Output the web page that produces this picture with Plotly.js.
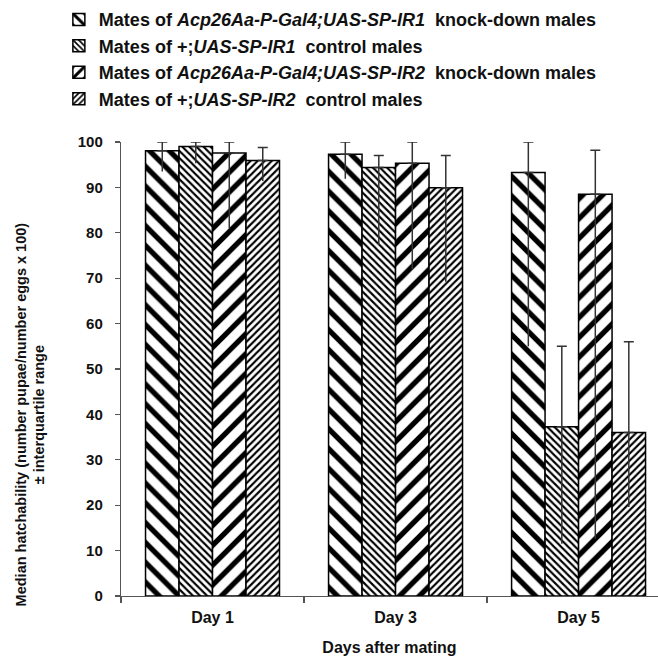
<!DOCTYPE html>
<html>
<head>
<meta charset="utf-8">
<script src="https://cdn.plot.ly/plotly-3.0.1.min.js"></script>
<style>html,body{margin:0;padding:0;background:#fff;}#chart{width:658px;height:656px;}</style>
</head>
<body>
<div id="chart"></div>
<script>
const categories = ["Day 1", "Day 3", "Day 5"];
const seriesNames = [
  "Mates of <i>Acp26Aa-P-Gal4;UAS-SP-IR1</i>&nbsp; knock-down males",
  "Mates of +;<i>UAS-SP-IR1</i>&nbsp; control males",
  "Mates of <i>Acp26Aa-P-Gal4;UAS-SP-IR2</i>&nbsp; knock-down males",
  "Mates of +;<i>UAS-SP-IR2</i>&nbsp; control males"
];
const ko1Median = [98.1, 97.3, 93.3];
const ctl1Median = [99.0, 94.4, 37.3];
const ko2Median = [97.6, 95.3, 88.5];
const ctl2Median = [95.9, 89.9, 36.0];
const ko1Upper = [100, 100, 100];
const ctl1Upper = [100, 97.0, 55.0];
const ko2Upper = [100, 100, 98.2];
const ctl2Upper = [98.8, 97.0, 56.0];
const ko1Lower = [93.5, 91.9, 55.0];
const ctl1Lower = [95.3, 77.3, 11.5];
const ko2Lower = [81.0, 71.8, 12.6];
const ctl2Lower = [91.4, 69.2, 19.6];

const medians = [ko1Median, ctl1Median, ko2Median, ctl2Median];
const uppers = [ko1Upper, ctl1Upper, ko2Upper, ctl2Upper];
const lowers = [ko1Lower, ctl1Lower, ko2Lower, ctl2Lower];
const shapes = ["\\", "\\", "/", "/"];
const sizes = [14, 5, 14, 5];
const solid = [0.38, 0.42, 0.38, 0.42];

const FONT = "Liberation Sans, Arial, sans-serif";
const traces = [];
for (let i = 0; i < 4; i++) {
  traces.push({
    type: "bar", x: categories, y: medians[i], name: seriesNames[i],
    offsetgroup: String(i + 1),
    marker: { color: "#ffffff", line: { color: "#000", width: 1.5 },
      pattern: { shape: shapes[i], size: sizes[i], solidity: solid[i], fgcolor: "#000", bgcolor: "#fff", fgopacity: 1, fillmode: "replace" } },
    error_y: { type: "data", symmetric: false,
      array: uppers[i].map((u, k) => u - medians[i][k]),
      arrayminus: medians[i].map(() => 0),
      color: "#333", thickness: 1.5, width: 5 },
    hoverinfo: "skip"
  });
}
for (let i = 0; i < 4; i++) {
  traces.push({
    type: "bar", x: categories, y: medians[i], showlegend: false,
    offsetgroup: String(i + 1),
    marker: { color: "rgba(0,0,0,0)", line: { width: 0 } },
    error_y: { type: "data", symmetric: false,
      array: medians[i].map(() => 0),
      arrayminus: lowers[i].map((l, k) => medians[i][k] - l),
      color: "#333", thickness: 1.5, width: 0 },
    hoverinfo: "skip"
  });
}

const layout = {
  width: 658, height: 656,
  margin: { l: 121, r: 0, t: 142, b: 60 },
  paper_bgcolor: "#fff", plot_bgcolor: "#fff",
  barmode: "group", bargap: 0.268, bargroupgap: 0,
  font: { family: FONT, size: 14, color: "#111", weight: 700 },
  showlegend: true,
  legend: { x: -0.1157, xanchor: "left", y: 1.31, yanchor: "top",
    font: { family: FONT, size: 18, color: "#111", weight: 700 },
    bgcolor: "rgba(0,0,0,0)", traceorder: "normal", tracegroupgap: 0 },
  xaxis: {
    type: "category", range: [-0.5, 2.434], tickson: "boundaries",
    ticks: "outside", ticklen: 6, tickcolor: "#555", tickwidth: 1.2,
    showline: true, linecolor: "#555", linewidth: 1.2, showgrid: false, zeroline: false,
    ticklabelstandoff: 7,
    tickfont: { family: FONT, size: 16, color: "#111", weight: 700 },
    title: { text: "Days after mating", standoff: 16, font: { family: FONT, size: 16, color: "#111", weight: 700 } }
  },
  yaxis: {
    range: [0, 100], tickvals: [0,10,20,30,40,50,60,70,80,90,100],
    ticks: "outside", ticklen: 5, tickcolor: "#555", tickwidth: 1.2,
    showline: true, linecolor: "#555", linewidth: 1.2, showgrid: false, zeroline: false,
    ticklabelstandoff: 9,
    tickfont: { family: FONT, size: 15, color: "#111", weight: 700 }
  },
  annotations: [{
    text: "Median hatchability (number pupae/number eggs x 100)<br>± interquartile range",
    textangle: -90, xref: "paper", yref: "paper", x: -0.1695, y: 0.40,
    xanchor: "center", yanchor: "middle", showarrow: false,
    font: { family: FONT, size: 14.5, color: "#111", weight: 700 }
  }]
};

Plotly.newPlot("chart", traces, layout, { displayModeBar: false, staticPlot: true });
</script>
</body>
</html>
